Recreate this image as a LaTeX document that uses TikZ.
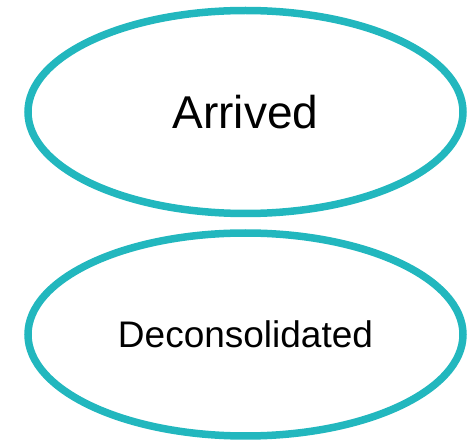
\documentclass[tikz,border=0pt]{standalone}
\usepackage{fontspec}
\setmainfont{Liberation Sans}
\usetikzlibrary{shapes.geometric}
\definecolor{tealc}{RGB}{34,183,190}
\tikzset{
  state/.style={ellipse, draw=tealc, line width=7.5pt, inner sep=0pt,
    minimum width=435pt, minimum height=203pt, text=black}
}
\begin{document}
\begin{tikzpicture}[x=1pt,y=1pt]
\useasboundingbox (0,0) rectangle (467,440);
\node[state, font=\fontsize{46}{50}\selectfont] (arr) at (245.5,328) {Arrived};
\node[state, font=\fontsize{37}{40}\selectfont] (dec) at (245.5,105.5) {Deconsolidated};
\end{tikzpicture}
\end{document}
